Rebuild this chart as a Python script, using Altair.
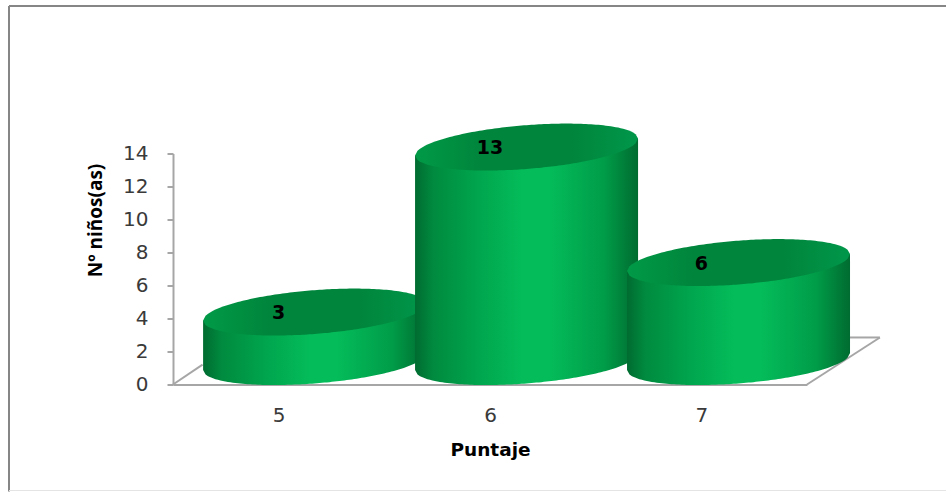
import math

import altair as alt
import pandas as pd

# Chart values
categories = ["5", "6", "7"]
counts = [3, 13, 6]
y_ticks = [0, 2, 4, 6, 8, 10, 12, 14]

# Drawing parameters, in scale units (one unit on x is one category band)
PLOT_W, PLOT_H = 634, 231
SHIFT_X, STEP_X = 0.67, 1.003   # cylinder centres sit behind the category ticks
RADIUS_X = 0.5276
RADIUS_Y = 1.327
TILT_Y = 0.515
BASE_Y = 1.39                   # lift of the cylinder base above the floor front
SAMPLES = 90

GRID = "#A6A6A6"
FRAME = "#868686"
TEXT = "#3A3A3A"

x_scale = alt.Scale(domain=[0, 3], nice=False, zero=False)
y_scale = alt.Scale(domain=[0, 14], nice=False, zero=False)

body_fill = alt.Gradient(
    gradient="linear", x1=0, x2=1, y1=0, y2=0,
    stops=[
        alt.GradientStop(offset=0.0, color="#006B30"),
        alt.GradientStop(offset=0.08, color="#008A3F"),
        alt.GradientStop(offset=0.28, color="#00A54D"),
        alt.GradientStop(offset=0.48, color="#04BC5A"),
        alt.GradientStop(offset=0.6, color="#04BC5A"),
        alt.GradientStop(offset=0.85, color="#009C48"),
        alt.GradientStop(offset=1.0, color="#006B30"),
    ],
)
top_fill = alt.Gradient(
    gradient="linear", x1=0, x2=1, y1=0, y2=0,
    stops=[
        alt.GradientStop(offset=0.0, color="#009A47"),
        alt.GradientStop(offset=0.3, color="#00853C"),
        alt.GradientStop(offset=0.7, color="#00853C"),
        alt.GradientStop(offset=1.0, color="#00974A"),
    ],
)


def cylinder_rows(index, value):
    """Side and lid outlines of one cylinder, in scale units."""
    centre = SHIFT_X + STEP_X * index
    rows = []
    for k in range(SAMPLES + 1):
        u = -1 + 2 * k / SAMPLES
        arc = RADIUS_Y * math.sqrt(max(0.0, 1 - u * u))
        lean = TILT_Y * u
        rows.append({
            "x": centre + RADIUS_X * u,
            "side_top": BASE_Y + value + lean,
            "side_bottom": BASE_Y + lean - arc,
            "lid_top": BASE_Y + value + lean + arc,
            "lid_bottom": BASE_Y + value + lean - arc,
        })
    return pd.DataFrame(rows)


x_enc = alt.X(
    "x:Q",
    scale=x_scale,
    title="Puntaje",
    axis=alt.Axis(
        values=[0.5, 1.5, 2.5],
        labelExpr="['5','6','7'][floor(datum.value)]",
        labelAngle=0,
        labelFont="DejaVu Sans",
        labelFontSize=20,
        labelColor=TEXT,
        labelOverlap=False,
        labelPadding=21,
        ticks=False,
        grid=False,
        domainColor=GRID,
        domainWidth=2,
        titleFont="DejaVu Sans",
        titleFontSize=18.5,
        titleFontWeight="bold",
        titleColor="#000000",
        titlePadding=15,
    ),
)
y_enc = alt.Y(
    "y:Q",
    scale=y_scale,
    title="Nº niños(as)",
    axis=alt.Axis(
        values=y_ticks,
        tickCount=len(y_ticks),
        labelFont="DejaVu Sans",
        labelFontSize=20,
        labelColor=TEXT,
        labelOverlap=False,
        labelPadding=19,
        tickColor=GRID,
        tickWidth=2,
        tickSize=6,
        grid=False,
        domainColor=GRID,
        domainWidth=2,
        titleFont="Open Sans",
        titleFontSize=19,
        titleFontWeight="bold",
        titleColor="#000000",
        titleX=-68,
        titleY=66.5,
    ),
)

# Axes and the open floor of the 3D box
floor = pd.DataFrame({
    "x": [0.0, 3.0, 3.345],
    "y": [0.0, 0.0, 2.85],
    "x2": [0.14, 3.345, 3.203],
    "y2": [1.2, 2.85, 2.85],
})
axes_layer = (
    alt.Chart(floor)
    .mark_rule(color=GRID, strokeWidth=2)
    .encode(x=x_enc, y=y_enc, x2="x2:Q", y2="y2:Q")
)

layers = [axes_layer]
for i, v in enumerate(counts):
    rows = cylinder_rows(i, v)
    base = alt.Chart(rows)
    layers.append(
        base.mark_area(color=body_fill, interpolate="linear").encode(
            x=alt.X("x:Q", scale=x_scale),
            y=alt.Y("side_top:Q", scale=y_scale),
            y2="side_bottom:Q",
        )
    )
    layers.append(
        base.mark_area(color=top_fill, interpolate="linear").encode(
            x=alt.X("x:Q", scale=x_scale),
            y=alt.Y("lid_top:Q", scale=y_scale),
            y2="lid_bottom:Q",
        )
    )

# Value labels lie on the lids, above each category tick
labels = pd.DataFrame({
    "x": [i + 0.5 for i in range(len(categories))],
    "y": counts,
    "label": [str(c) for c in counts],
})
layers.append(
    alt.Chart(labels)
    .mark_text(
        font="DejaVu Sans", fontSize=19, fontWeight="bold",
        color="#000000", baseline="middle", align="center", dy=-22,
    )
    .encode(
        x=alt.X("x:Q", scale=x_scale),
        y=alt.Y("y:Q", scale=y_scale),
        text="label:N",
    )
)

# Outer frame of the chart object
frame_spec = [
    dict(x=-164, x2=773, y=-147.5, y2=-147.5, c=FRAME, w=2),
    dict(x=-164, x2=-164, y=-147.5, y2=338, c=FRAME, w=2),
    dict(x=-164, x2=773, y=337, y2=337, c="#E4E4E4", w=1),
]
frame_layers = [
    alt.Chart(pd.DataFrame({"k": [0]}))
    .mark_rule(color=f["c"], strokeWidth=f["w"])
    .encode(
        x=alt.value(f["x"]), x2=alt.value(f["x2"]),
        y=alt.value(f["y"]), y2=alt.value(f["y2"]),
    )
    for f in frame_spec
]

chart = (
    alt.layer(*frame_layers, *layers)
    .properties(
        width=PLOT_W,
        height=PLOT_H,
        autosize=alt.AutoSizeParams(type="none"),
        padding={"left": 173, "top": 153.5, "right": 139, "bottom": 107.5},
        background="#FFFFFF",
    )
    .configure_view(stroke=None)
)

chart.save("out.html", embed_options={"renderer": "svg", "actions": False})
